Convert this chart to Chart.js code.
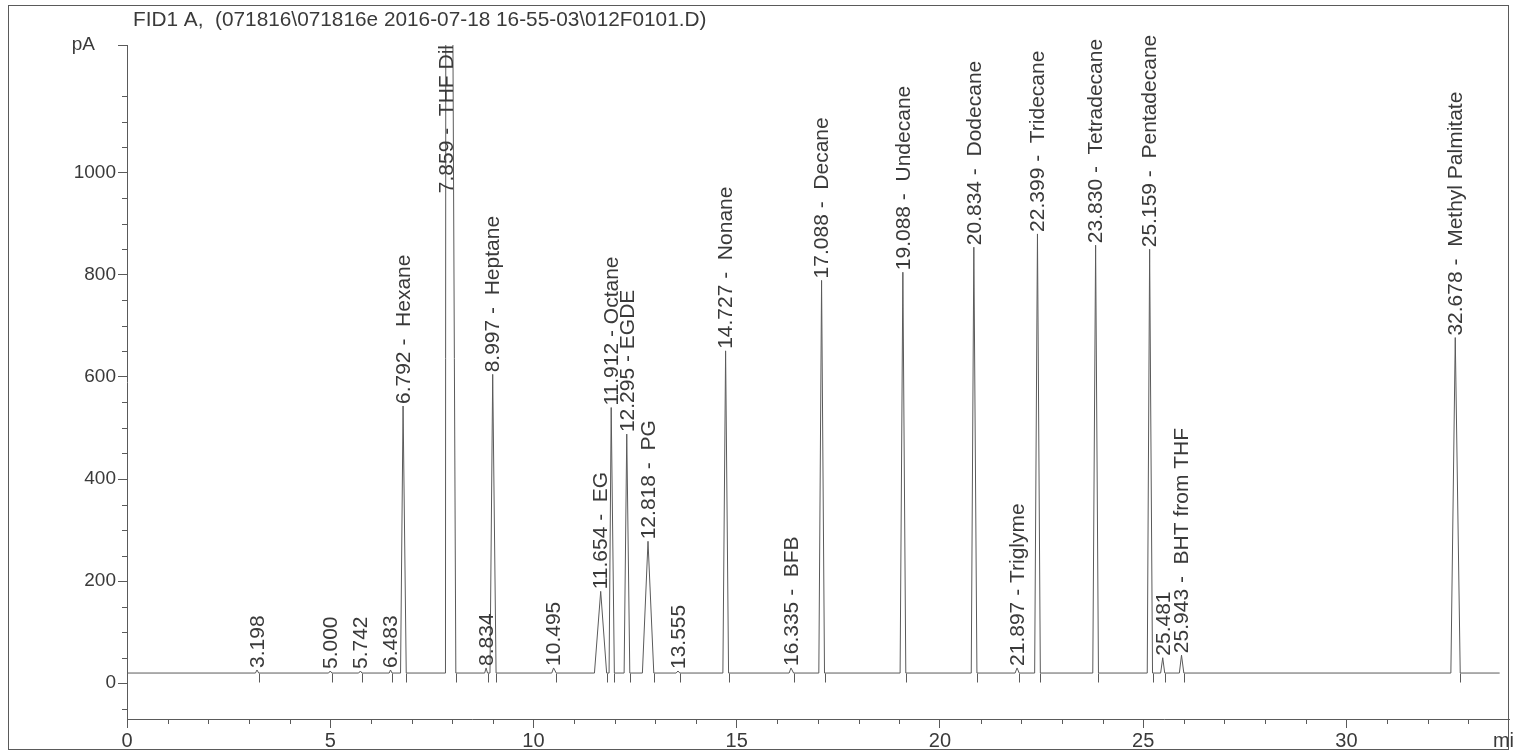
<!DOCTYPE html>
<html>
<head>
<meta charset="utf-8">
<script src="https://cdn.jsdelivr.net/npm/chart.js@4.4.1/dist/chart.umd.min.js"></script>
<style>
  html, body { margin: 0; padding: 0; background: #fff; }
  #contenedor { position: relative; width: 1513px; height: 753px; }
</style>
</head>
<body>
<div id="contenedor"><canvas id="grafica"></canvas></div>
<script>
const TITULO = "FID1 A,  (071816\\071816e 2016-07-18 16-55-03\\012F0101.D)";

const TIEMPOS = [3.198, 5.000, 5.742, 6.483, 6.792, 7.859, 8.834, 8.997, 10.495, 11.654, 11.912, 12.295, 12.818,
  13.555, 14.727, 16.335, 17.088, 19.088, 20.834, 21.897, 22.399, 23.830, 25.159, 25.481, 25.943, 32.678];
const ALTURAS = [26, 24, 24, 26, 543, 4000, 30, 605, 30, 180, 540, 488, 278,
  24, 651, 30, 789, 805, 854, 30, 880, 858, 850, 50, 55, 677];
const INICIOS = [3.16, 4.96, 5.70, 6.45, 6.73, 7.835, 8.80, 8.93, 10.45, 11.50, 11.86, 12.23, 12.68,
  13.51, 14.66, 16.29, 17.02, 19.02, 20.77, 21.85, 22.33, 23.76, 25.10, 25.43, 25.89, 32.57];
const FINES = [3.24, 5.04, 5.78, 6.52, 6.87, 8.09, 8.87, 9.08, 10.56, 11.80, 11.99, 12.37, 12.96,
  13.60, 14.80, 16.40, 17.16, 19.16, 20.91, 21.95, 22.47, 23.90, 25.23, 25.53, 26.00, 32.80];
const ETIQUETAS = ["3.198", "5.000", "5.742", "6.483", "6.792 -  Hexane", "7.859 -  THF Dil", "8.834",
  "8.997 -  Heptane", "10.495", "11.654 -  EG", "11.912 - Octane", "12.295 - EGDE", "12.818 -  PG",
  "13.555", "14.727 -  Nonane", "16.335 -  BFB", "17.088 -  Decane", "19.088 -  Undecane",
  "20.834 -  Dodecane", "21.897 - Triglyme", "22.399 -  Tridecane", "23.830 -  Tetradecane",
  "25.159 -  Pentadecane", "25.481", "25.943 -  BHT from THF", "32.678 -  Methyl Palmitate"];

const LINEA_BASE = 20;
const FIN_CORRIDA = 33.77;

const X_TICKS = [0, 5, 10, 15, 20, 25, 30];
const X_MAX = 34;
const X_MENOR = 1;
const Y_TICKS = [0, 200, 400, 600, 800, 1000];
const Y_MIN = -70;
const Y_MAX = 1250;
const Y_MENOR = 50;

const FUENTE = "'Liberation Sans', Arial, sans-serif";
const GRIS = "#5a5a5a";
const TEXTO = "#3a3a3a";

function construirTraza() {
  const puntos = [{ x: 0, y: LINEA_BASE }];
  TIEMPOS.forEach((t, i) => {
    puntos.push({ x: INICIOS[i], y: LINEA_BASE });
    puntos.push({ x: t, y: ALTURAS[i] });
    puntos.push({ x: FINES[i], y: LINEA_BASE });
  });
  puntos.push({ x: FIN_CORRIDA, y: LINEA_BASE });
  return puntos.sort((a, b) => a.x - b.x);
}

// marco, titulo, marcas menores, marcas de integracion y etiquetas de picos
const anotaciones = {
  id: "anotaciones",
  afterDraw(chart) {
    const { ctx, chartArea, scales: { x, y } } = chart;
    ctx.save();
    ctx.strokeStyle = GRIS;
    ctx.lineWidth = 1;
    ctx.strokeRect(8.5, 5.5, 1500, 744);

    ctx.beginPath();
    for (let m = X_MENOR; m < X_MAX; m += X_MENOR) {
      if (m % 5 === 0) continue;
      const px = Math.round(x.getPixelForValue(m)) + 0.5;
      ctx.moveTo(px, chartArea.bottom);
      ctx.lineTo(px, chartArea.bottom + 5);
    }
    for (let v = -Y_MENOR; v < Y_MAX; v += Y_MENOR) {
      if (v % 200 === 0) continue;
      const py = Math.round(y.getPixelForValue(v)) + 0.5;
      ctx.moveTo(chartArea.left - 5, py);
      ctx.lineTo(chartArea.left, py);
    }
    const yBase = Math.round(y.getPixelForValue(LINEA_BASE)) + 0.5;
    FINES.forEach((f) => {
      const px = Math.round(x.getPixelForValue(f)) + 0.5;
      ctx.moveTo(px, yBase);
      ctx.lineTo(px, yBase + 9);
    });
    ctx.stroke();

    ctx.fillStyle = TEXTO;
    ctx.font = "20.8px " + FUENTE;
    ctx.textBaseline = "middle";
    ctx.textAlign = "left";
    ctx.fillText(TITULO, chartArea.left + 6, 20);

    ctx.font = "21px " + FUENTE;
    TIEMPOS.forEach((t, i) => {
      const texto = ETIQUETAS[i];
      if (!texto) return;
      const px = x.getPixelForValue(t);
      ctx.save();
      if (ALTURAS[i] > Y_MAX) {
        ctx.translate(px, chartArea.top);
        ctx.rotate(-Math.PI / 2);
        ctx.textAlign = "right";
      } else {
        ctx.translate(px, y.getPixelForValue(ALTURAS[i]) - 2);
        ctx.rotate(-Math.PI / 2);
        ctx.textAlign = "left";
      }
      ctx.fillText(texto, 0, 1);
      ctx.restore();
    });
    ctx.restore();
  },
};

new Chart(document.getElementById("grafica"), {
  type: "line",
  data: {
    datasets: [{
      data: construirTraza(),
      borderColor: GRIS,
      borderWidth: 1,
      pointRadius: 0,
      tension: 0,
      fill: false,
    }],
  },
  options: {
    responsive: true,
    maintainAspectRatio: false,
    animation: false,
    events: [],
    layout: { padding: { top: 45, right: 4, left: 0, bottom: 0 } },
    plugins: { legend: { display: false }, tooltip: { enabled: false } },
    scales: {
      x: {
        type: "linear",
        min: 0,
        max: X_MAX,
        afterBuildTicks(scale) {
          scale.ticks = X_TICKS.concat([X_MAX]).map((v) => ({ value: v }));
        },
        afterFit(scale) {
          scale.height = 34;
          scale.paddingLeft = 0;
          scale.paddingRight = 0;
        },
        border: { display: true, color: GRIS, width: 1 },
        grid: {
          drawOnChartArea: false,
          drawTicks: true,
          tickLength: 9,
          tickColor: (c) => (c.tick && c.tick.value === X_MAX ? "rgba(0,0,0,0)" : GRIS),
        },
        ticks: {
          color: TEXTO,
          padding: 1,
          maxRotation: 0,
          autoSkip: false,
          font: { family: FUENTE, size: 20 },
          callback: (v) => (v === X_MAX ? "min" : v),
        },
      },
      y: {
        min: Y_MIN,
        max: Y_MAX,
        afterBuildTicks(scale) {
          scale.ticks = Y_TICKS.concat([Y_MAX]).map((v) => ({ value: v }));
        },
        afterFit(scale) {
          scale.width = 127;
          scale.paddingTop = 0;
          scale.paddingBottom = 0;
        },
        border: { display: true, color: GRIS, width: 1 },
        grid: { drawOnChartArea: false, drawTicks: true, tickLength: 9, tickColor: GRIS },
        ticks: {
          color: TEXTO,
          padding: 2,
          autoSkip: false,
          font: { family: FUENTE, size: 19 },
          callback: (v) => (v === Y_MAX ? "pA    " : v),
        },
      },
    },
  },
  plugins: [anotaciones],
});
</script>
</body>
</html>
